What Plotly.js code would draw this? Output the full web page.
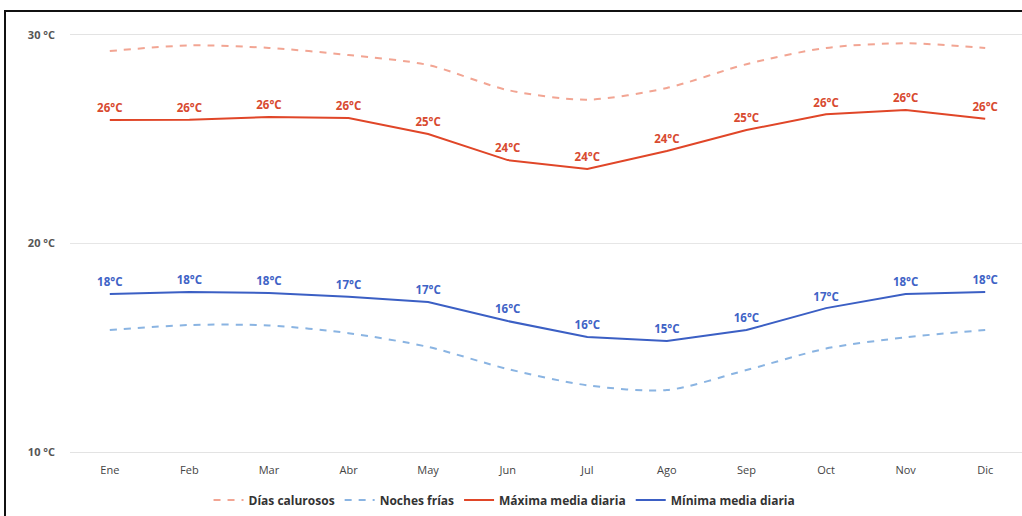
<!DOCTYPE html>
<html>
<head>
<meta charset="utf-8">
<script src="https://cdn.plot.ly/plotly-3.0.1.min.js"></script>
<style>
  html, body { margin: 0; padding: 0; background: #fff; overflow: hidden; width: 1022px; height: 516px; }
  #chart { position: absolute; left: 0; top: 0; width: 1025px; height: 516px; }
  #frame { position: absolute; left: 4px; top: 10px; width: 1030px; height: 520px;
           border-top: 2px solid #111; border-left: 2px solid #111; pointer-events: none; }
</style>
</head>
<body>
<div id="chart"></div>
<div id="frame"></div>
<script>
const months = ["Ene","Feb","Mar","Abr","May","Jun","Jul","Ago","Sep","Oct","Nov","Dic"];
const diasCalurosos = [29.23, 29.5, 29.38, 29.04, 28.56, 27.36, 26.9, 27.46, 28.6, 29.38, 29.6, 29.38];
const nochesFrias   = [15.85, 16.09, 16.07, 15.7, 15.04, 13.98, 13.2, 12.97, 13.93, 14.96, 15.5, 15.85];
const maximaMedia   = [25.92, 25.93, 26.07, 26.02, 25.25, 24.0, 23.57, 24.44, 25.44, 26.2, 26.4, 25.98];
const minimaMedia   = [17.58, 17.67, 17.63, 17.45, 17.19, 16.28, 15.52, 15.32, 15.85, 16.9, 17.58, 17.67];
const yTickVals = [10, 20, 30];
const yTickText = ["10 °C", "20 °C", "30 °C"];

const fnt = "'Open Sans', 'DejaVu Sans', sans-serif";
const lbl = v => Math.round(v) + "°C";

function labelTrace(y, color) {
  return { x: months, y: y, type: "scatter", mode: "markers+text", showlegend: false,
    marker: { size: 6, opacity: 0, color: color },
    text: y.map(lbl), textposition: "top center",
    textfont: { family: fnt, size: 11.5, color: color, weight: "bold" }, hoverinfo: "skip" };
}

const traces = [
  { x: months, y: diasCalurosos, name: "Días calurosos", type: "scatter", mode: "lines",
    line: { color: "#f2a593", width: 2, dash: "7px,7px", shape: "spline", smoothing: 0.8 }, hoverinfo: "skip" },
  { x: months, y: nochesFrias, name: "Noches frías", type: "scatter", mode: "lines",
    line: { color: "#8ab4e2", width: 2, dash: "7px,7px", shape: "spline", smoothing: 0.8 }, hoverinfo: "skip" },
  { x: months, y: maximaMedia, name: "Máxima media diaria", type: "scatter", mode: "lines",
    line: { color: "#e04628", width: 2 }, hoverinfo: "skip" },
  { x: months, y: minimaMedia, name: "Mínima media diaria", type: "scatter", mode: "lines",
    line: { color: "#3b5fc4", width: 2 }, hoverinfo: "skip" },
  labelTrace(maximaMedia, "#d84a30"),
  labelTrace(minimaMedia, "#3f63c6")
];

const layout = {
  width: 1025, height: 516,
  margin: { l: 70, r: 0, t: 35, b: 64 },
  paper_bgcolor: "#fff", plot_bgcolor: "#fff",
  showlegend: true,
  legend: { orientation: "h", x: 0.455, xanchor: "center", y: -0.115, yanchor: "middle",
            font: { family: fnt, size: 12, color: "#333", weight: "bold" }, itemwidth: 30, tracegroupgap: 0 },
  xaxis: { type: "category", range: [-0.5, 11.5], showgrid: false, zeroline: false,
           showline: true, mirror: true, linecolor: "#e3e3e3", linewidth: 1,
           ticks: "", ticklabelstandoff: 8, tickfont: { family: fnt, size: 11, color: "#444" }, fixedrange: true },
  yaxis: { range: [10, 30], tickvals: yTickVals, ticktext: yTickText, showgrid: true,
           gridcolor: "#e6e6e6", gridwidth: 1, zeroline: false, showline: false, ticks: "",
           ticklabelstandoff: 14,
           tickfont: { family: fnt, size: 11, color: "#555", weight: "bold" }, fixedrange: true },
  font: { family: fnt }
};

Plotly.newPlot("chart", traces, layout, { displayModeBar: false, staticPlot: true });
</script>
</body>
</html>
